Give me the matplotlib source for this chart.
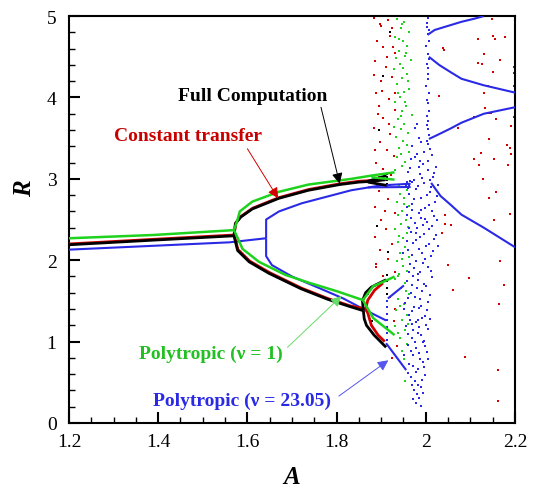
import matplotlib
matplotlib.use("Agg")
import matplotlib.pyplot as plt
from matplotlib.ticker import MultipleLocator

plt.rcParams['font.family'] = ['Liberation Serif', 'DejaVu Serif']

# ---------------- branch curves (A, R) ----------------
# Full computation (black)
full_stem_A = [1.2, 1.4, 1.57]
full_stem_R = [2.19, 2.25, 2.30]
full_up_A = [1.57, 1.573, 1.585, 1.611, 1.670, 1.737, 1.807, 1.85, 1.88, 1.91]
full_up_R = [2.30, 2.45, 2.53, 2.63, 2.76, 2.86, 2.93, 2.96, 2.97, 2.99]
full_low_A = [1.57, 1.578, 1.604, 1.648, 1.72, 1.78, 1.83, 1.86]
full_low_R = [2.30, 2.12, 1.98, 1.84, 1.65, 1.52, 1.43, 1.38]
full_p4a_A = [1.86, 1.858, 1.865, 1.878, 1.911]
full_p4a_R = [1.38, 1.50, 1.60, 1.67, 1.76]
full_p4b_A = [1.86, 1.862, 1.867, 1.884, 1.911]
full_p4b_R = [1.38, 1.28, 1.20, 1.08, 0.93]
full_top_a_A = [1.87, 1.912]
full_top_a_R = [2.97, 3.04]
full_top_b_A = [1.87, 1.912]
full_top_b_R = [2.96, 2.92]

# Constant transfer (red)
const_stem_A = [1.2, 1.4, 1.57]
const_stem_R = [2.20, 2.26, 2.31]
const_up_A = [1.57, 1.574, 1.586, 1.612, 1.671, 1.738, 1.808, 1.85, 1.88, 1.905]
const_up_R = [2.31, 2.46, 2.54, 2.64, 2.77, 2.87, 2.94, 2.97, 2.98, 3.00]
const_low_A = [1.57, 1.579, 1.605, 1.649, 1.72, 1.78, 1.83, 1.865]
const_low_R = [2.31, 2.13, 1.99, 1.85, 1.66, 1.53, 1.44, 1.40]
const_p4a_A = [1.865, 1.87, 1.885, 1.904]
const_p4a_R = [1.40, 1.51, 1.63, 1.72]
const_p4b_A = [1.865, 1.87, 1.878, 1.893, 1.908]
const_p4b_R = [1.40, 1.35, 1.20, 1.08, 1.00]

# Polytropic nu = 1 (green)
poly1_stem_A = [1.2, 1.389, 1.57]
poly1_stem_R = [2.27, 2.31, 2.37]
poly1_up_A = [1.57, 1.578, 1.583, 1.611, 1.670, 1.737, 1.833, 1.878, 1.93]
poly1_up_R = [2.37, 2.50, 2.60, 2.72, 2.84, 2.93, 3.00, 3.04, 3.08]
poly1_up2_A = [1.878, 1.93]
poly1_up2_R = [3.02, 2.99]
poly1_low_A = [1.57, 1.58, 1.589, 1.626, 1.685, 1.74, 1.80, 1.859]
poly1_low_R = [2.37, 2.25, 2.14, 1.98, 1.82, 1.72, 1.62, 1.51]
poly1_p4a_A = [1.859, 1.882, 1.915, 1.93]
poly1_p4a_R = [1.51, 1.68, 1.76, 1.80]
poly1_p4b_A = [1.859, 1.882, 1.93]
poly1_p4b_R = [1.51, 1.29, 1.08]

# Polytropic nu = 23.05 (blue)
poly23_stem_A = [1.2, 1.4, 1.56, 1.642]
poly23_stem_R = [2.13, 2.18, 2.22, 2.27]
poly23_up_A = [1.642, 1.642, 1.671, 1.722, 1.833, 1.90, 1.966]
poly23_up_R = [2.27, 2.50, 2.60, 2.70, 2.86, 2.92, 2.94]
poly23_up2_A = [1.87, 1.966]
poly23_up2_R = [2.895, 2.90]
poly23_low_A = [1.642, 1.642, 1.655, 1.70, 1.76, 1.815, 1.867, 1.911]
poly23_low_R = [2.27, 2.05, 1.94, 1.80, 1.66, 1.53, 1.38, 1.26]
poly23_p4a_A = [1.915, 1.951]
poly23_p4a_R = [1.53, 1.69]
poly23_p4b_A = [1.911, 1.956]
poly23_p4b_R = [0.98, 0.65]
poly23_c1_A = [2.004, 2.02, 2.05, 2.08, 2.11, 2.13]
poly23_c1_R = [4.77, 4.83, 4.88, 4.93, 4.97, 5.0]
poly23_c2_A = [2.007, 2.03, 2.056, 2.08, 2.13, 2.2]
poly23_c2_R = [4.50, 4.40, 4.31, 4.23, 4.15, 4.06]
poly23_c3_A = [2.007, 2.03, 2.056, 2.08, 2.13, 2.2]
poly23_c3_R = [3.49, 3.55, 3.62, 3.69, 3.80, 3.88]
poly23_c4_A = [2.012, 2.033, 2.056, 2.08, 2.13, 2.2]
poly23_c4_R = [2.95, 2.79, 2.68, 2.56, 2.40, 2.16]

# ---------------- chaotic scatter points (A, R) ----------------
red_pts = [
    (1.885, 4.98), (1.897, 4.90), (1.915, 4.95), (1.925, 4.85), (1.89, 4.70), (1.905, 4.62),
    (1.92, 4.75), (1.932, 4.55), (1.887, 4.45), (1.91, 4.38), (1.90, 4.20), (1.925, 4.25),
    (1.888, 4.05), (1.918, 3.98), (1.895, 3.90), (1.93, 3.85), (1.905, 3.75), (1.885, 3.62),
    (1.92, 3.55), (1.898, 3.45), (1.912, 3.35), (1.928, 3.28), (1.889, 3.20), (1.905, 3.12),
    (1.922, 3.05), (1.894, 2.85), (1.915, 2.75), (1.886, 2.65), (1.93, 2.58), (1.90, 2.50),
    (1.91, 2.38), (1.887, 2.28), (1.925, 2.20), (1.898, 2.12), (1.915, 2.02), (1.889, 1.92),
    (1.93, 1.85), (1.905, 1.80), (1.92, 1.55), (1.928, 1.25), (1.935, 0.95),
    (1.925, 0.80), (1.90, 4.88), (1.93, 4.05), (1.886, 3.35), (1.92, 2.92), (1.888, 1.95),
    (1.932, 1.40), (1.912, 4.50), (1.896, 3.02), (1.902, 4.08), (1.884, 4.28), (1.917, 3.68),
    (1.893, 3.80), (1.927, 4.62), (1.909, 2.60),
    (2.149, 4.96), (2.116, 4.72), (2.151, 4.75), (2.156, 4.72), (2.178, 4.74), (2.04, 4.58),
    (2.131, 4.53), (2.116, 4.42), (2.127, 4.41), (2.167, 4.46), (2.151, 4.31), (2.198, 4.38),
    (2.198, 4.30), (2.14, 4.14), (2.198, 4.14), (2.131, 4.06), (2.133, 3.87), (2.142, 3.81),
    (2.147, 3.81), (2.109, 3.76), (2.158, 3.73), (2.198, 3.76), (2.073, 3.62), (2.191, 3.65),
    (2.142, 3.49), (2.182, 3.41), (2.189, 3.38), (2.191, 3.31), (2.124, 3.32), (2.107, 3.24),
    (2.12, 3.17), (2.153, 3.25), (2.184, 3.17), (2.129, 3.00), (2.158, 2.84), (2.142, 2.77),
    (2.189, 2.57), (2.153, 2.49), (2.044, 2.56), (2.042, 2.45), (2.056, 2.43), (2.036, 2.34),
    (2.049, 1.94), (2.167, 1.99), (2.096, 1.78), (2.176, 1.70), (2.06, 1.63), (2.164, 1.46),
    (2.089, 0.81), (2.162, 0.65), (2.162, 0.27), (2.038, 4.61), (2.029, 4.02),
]

black_pts = [
    (1.905, 4.26), (1.913, 3.06), (1.913, 3.02), (1.913, 2.98), (1.913, 2.94), (1.913, 2.90),
    (1.89, 2.42), (1.915, 2.10), (1.912, 1.82), (1.912, 1.74), (1.912, 1.66), (1.912, 1.58),
    (1.912, 1.50), (1.912, 1.42), (1.912, 1.34), (1.912, 1.26), (1.912, 1.18), (1.912, 1.10),
    (1.912, 1.02), (1.87, 1.58), (1.88, 1.25), (1.895, 3.60), (1.92, 4.80),
]

green_pts = [
    (1.936, 4.97), (1.951, 4.93), (1.944, 4.86), (1.962, 4.81), (1.931, 4.74), (1.948, 4.69),
    (1.957, 4.63), (1.939, 4.57), (1.953, 4.51), (1.966, 4.46), (1.942, 4.41), (1.929, 4.35),
    (1.958, 4.29), (1.947, 4.24), (1.935, 4.17), (1.962, 4.11), (1.951, 4.07), (1.943, 4.01),
    (1.932, 3.94), (1.956, 3.89), (1.946, 3.84), (1.968, 3.79), (1.938, 3.73), (1.952, 3.68),
    (1.944, 3.61), (1.959, 3.56), (1.933, 3.51), (1.948, 3.46), (1.941, 3.38), (1.963, 3.33),
    (1.936, 3.27), (1.954, 3.21), (1.946, 3.16), (1.931, 3.11),
    (1.957, 2.86), (1.942, 2.82), (1.951, 2.76), (1.935, 2.71), (1.962, 2.67), (1.947, 2.61),
    (1.938, 2.55), (1.955, 2.49), (1.944, 2.44), (1.931, 2.38), (1.958, 2.33), (1.949, 2.27),
    (1.937, 2.22), (1.953, 2.16), (1.943, 2.09), (1.962, 2.04), (1.935, 1.99), (1.948, 1.93),
    (1.957, 1.87), (1.941, 1.83), (1.931, 1.77), (1.954, 1.72), (1.945, 1.66), (1.962, 1.58),
    (1.938, 1.52), (1.951, 1.46), (1.934, 1.39), (1.957, 1.33), (1.946, 1.27), (1.931, 1.19),
    (1.953, 1.14), (1.943, 1.05), (1.958, 0.97), (1.947, 0.88), (1.951, 0.78), (1.954, 0.52),
    (1.947, 4.90), (1.94, 4.72), (1.955, 4.55), (1.934, 4.48), (1.949, 4.36), (1.96, 4.20),
    (1.938, 4.05), (1.953, 3.95), (1.944, 3.77), (1.929, 3.64), (1.957, 3.42), (1.945, 3.30),
    (1.939, 2.93), (1.952, 2.69), (1.96, 2.41), (1.94, 2.30), (1.947, 2.01), (1.938, 1.80),
    (1.955, 1.62), (1.942, 1.44), (1.96, 1.22), (1.937, 1.10),
]

blue_pts = [
    (2.005, 4.98), (2.002, 4.91), (2.008, 4.83), (2.004, 4.78), (2.007, 4.69), (2.001, 4.63),
    (2.005, 4.54), (2.008, 4.47), (2.003, 4.41), (2.006, 4.29), (2.004, 4.23), (2.001, 4.14),
    (2.007, 4.06), (2.003, 3.97), (2.005, 3.93), (2.008, 3.84), (2.002, 3.77), (2.006, 3.71),
    (2.004, 3.61), (2.007, 3.54), (2.002, 3.47), (2.005, 3.43), (2.009, 3.37), (2.003, 4.87),
    (2.006, 4.36), (2.002, 3.66),
    (1.975, 3.62), (1.985, 3.50), (1.97, 3.40), (1.99, 3.45), (1.98, 3.68),
    (1.981, 3.31), (1.967, 3.24), (2.013, 3.29), (1.994, 3.18), (2.022, 3.14), (1.959, 3.09),
    (1.987, 3.06), (2.004, 3.11), (1.973, 2.99), (2.017, 3.02), (1.996, 2.95), (2.027, 2.93),
    (1.978, 2.87), (1.962, 2.81), (2.009, 2.84), (1.989, 2.77), (2.021, 2.72), (1.969, 2.69),
    (1.999, 2.64), (1.984, 2.58), (2.014, 2.61), (1.958, 2.55), (2.026, 2.49), (1.976, 2.46),
    (1.993, 2.43), (2.008, 2.38), (1.966, 2.35), (1.986, 2.29), (2.019, 2.26), (1.972, 2.21),
    (2.001, 2.17), (1.961, 2.12), (1.991, 2.09), (2.012, 2.05), (1.979, 1.99), (1.964, 1.95),
    (2.006, 1.92), (1.988, 1.86), (1.971, 1.81), (2.015, 1.79), (1.958, 1.74), (1.997, 1.71),
    (1.981, 1.66), (1.966, 1.60), (2.009, 1.57), (1.987, 1.52), (1.954, 1.47), (1.974, 1.43),
    (2.002, 1.39), (1.962, 1.33), (1.991, 1.29), (1.977, 1.24), (1.956, 1.19), (2.006, 1.16),
    (1.983, 1.11), (1.968, 1.05), (1.995, 1.01), (1.959, 0.96), (1.979, 0.92), (2.003, 0.87),
    (1.971, 0.83), (1.988, 0.78), (1.963, 0.72), (1.996, 0.69), (1.978, 0.63), (1.967, 0.57),
    (1.991, 0.53), (1.982, 0.47), (1.973, 0.41), (1.994, 0.37), (1.985, 0.31), (1.977, 0.25),
    (1.99, 0.21),
    (1.997, 3.33), (1.975, 3.27), (2.006, 3.22), (1.984, 3.15), (1.965, 3.13), (2.018, 3.07),
    (1.992, 3.01), (1.968, 2.96), (2.011, 2.90), (1.983, 2.91), (2.002, 2.80), (1.974, 2.75),
    (2.025, 2.79), (1.958, 2.66), (2.007, 2.68), (1.989, 2.62), (1.966, 2.52), (2.019, 2.54),
    (1.998, 2.51), (1.981, 2.40), (2.015, 2.42), (1.962, 2.39), (1.995, 2.32), (2.024, 2.31),
    (1.977, 2.25), (2.008, 2.20), (1.985, 2.14), (1.968, 2.06), (2.017, 2.11), (1.999, 2.02),
    (1.973, 1.90), (1.994, 1.96), (2.011, 1.87), (1.962, 1.85), (1.983, 1.76), (2.001, 1.68),
    (1.969, 1.69), (1.991, 1.62), (1.975, 1.55), (2.005, 1.49), (1.96, 1.54), (1.985, 1.41),
    (1.969, 1.37), (1.998, 1.32), (1.982, 1.26), (1.965, 1.27), (2.0, 1.21), (1.972, 1.14),
    (1.989, 1.08), (1.961, 1.09), (1.975, 0.99), (1.999, 0.94), (1.966, 0.89), (1.985, 0.86),
    (1.994, 0.75), (1.972, 0.70), (1.983, 0.66), (1.998, 0.59), (1.976, 0.51), (1.989, 0.44),
    (1.968, 0.47), (1.981, 0.36), (1.972, 0.29),
    (1.988, 3.22), (2.01, 2.98), (1.97, 2.62), (1.99, 2.52), (2.003, 2.47), (1.978, 2.33),
    (1.957, 2.24), (2.028, 2.17), (1.95, 2.09), (1.982, 1.83), (1.99, 1.44), (1.952, 1.40),
    (2.01, 1.28), (1.97, 1.22), (1.985, 1.18), (1.993, 0.99), (1.952, 0.84), (2.005, 0.79),
    (1.96, 0.62),
    (1.958, 2.96), (1.962, 2.93), (1.955, 2.91), (1.96, 2.89), (1.964, 2.97),
    (1.912, 1.50), (1.912, 1.42), (1.912, 1.34), (1.912, 1.26), (1.912, 1.18), (1.912, 1.10),
    (1.912, 1.02),
]

# ---------------- axis texts ----------------
x_ticks = [1.2, 1.4, 1.6, 1.8, 2.0, 2.2]
x_tick_labels = ["1.2", "1.4", "1.6", "1.8", "2", "2.2"]
y_ticks = [0, 1, 2, 3, 4, 5]
y_tick_labels = ["0", "1", "2", "3", "4", "5"]

RED = "#d40000"
BLACK = "#000000"
GREEN = "#1ed21e"
BLUE = "#2a2ae6"

fig = plt.figure(figsize=(5.37, 4.89), dpi=100)
ax = fig.add_axes([0.1285, 0.133, 0.8305, 0.832])

def scat(pts, color):
    ax.scatter([p[0] for p in pts], [p[1] for p in pts], s=3.0, marker='s',
               color=color, linewidths=0, zorder=2)

scat(red_pts, RED)
scat(green_pts, GREEN)
scat(black_pts, BLACK)
scat(blue_pts, BLUE)

def line(A, R, color, lw, z):
    ax.plot(A, R, color=color, lw=lw, zorder=z, solid_capstyle='butt')

for A, R in [(poly23_stem_A, poly23_stem_R), (poly23_up_A, poly23_up_R),
             (poly23_up2_A, poly23_up2_R), (poly23_low_A, poly23_low_R),
             (poly23_p4a_A, poly23_p4a_R), (poly23_p4b_A, poly23_p4b_R),
             (poly23_c1_A, poly23_c1_R), (poly23_c2_A, poly23_c2_R),
             (poly23_c3_A, poly23_c3_R), (poly23_c4_A, poly23_c4_R)]:
    line(A, R, BLUE, 1.5, 3)

for A, R in [(const_stem_A, const_stem_R), (const_up_A, const_up_R),
             (const_low_A, const_low_R), (const_p4a_A, const_p4a_R),
             (const_p4b_A, const_p4b_R)]:
    line(A, R, RED, 2.0, 4)

for A, R in [(full_stem_A, full_stem_R), (full_up_A, full_up_R),
             (full_low_A, full_low_R), (full_p4a_A, full_p4a_R),
             (full_p4b_A, full_p4b_R), (full_top_a_A, full_top_a_R),
             (full_top_b_A, full_top_b_R)]:
    line(A, R, BLACK, 2.0, 5)

for A, R in [(poly1_stem_A, poly1_stem_R), (poly1_up_A, poly1_up_R),
             (poly1_up2_A, poly1_up2_R), (poly1_low_A, poly1_low_R),
             (poly1_p4a_A, poly1_p4a_R), (poly1_p4b_A, poly1_p4b_R)]:
    line(A, R, GREEN, 1.8, 6)

def arrow(tip, tail, color):
    ax.annotate("", xy=tip, xytext=tail, zorder=8,
                arrowprops=dict(arrowstyle='-|>', color=color, lw=0.7,
                                mutation_scale=16, shrinkA=0, shrinkB=0))

FS = 14
arrow((1.807, 2.94), (1.765, 3.88), BLACK)
ax.text(1.611, 4.03, "Full Computation", color=BLACK, fontsize=FS,
        fontweight='bold', ha='center', va='center')

arrow((1.669, 2.76), (1.60, 3.37), RED)
ax.text(1.467, 3.53, "Constant transfer", color="#c80000", fontsize=FS,
        fontweight='bold', ha='center', va='center')

arrow((1.811, 1.56), (1.69, 0.93), "#66dd66")
ax.text(1.518, 0.86, "Polytropic (\u03bd = 1)", color="#22c022", fontsize=FS,
        fontweight='bold', ha='center', va='center')

arrow((1.916, 0.77), (1.805, 0.33), "#5555ee")
ax.text(1.589, 0.28, "Polytropic (\u03bd = 23.05)", color="#2a2ae6", fontsize=FS,
        fontweight='bold', ha='center', va='center')

ax.set_xlim(1.2, 2.2)
ax.set_ylim(0, 5)
ax.set_xticks(x_ticks)
ax.set_xticklabels(x_tick_labels)
ax.set_yticks(y_ticks)
ax.set_yticklabels(y_tick_labels)
ax.xaxis.set_minor_locator(MultipleLocator(0.05))
ax.yaxis.set_minor_locator(MultipleLocator(0.2))
ax.tick_params(which='both', direction='in', top=False, right=False, labelsize=14, width=1.0)
ax.tick_params(which='major', length=8, width=1.5)
ax.tick_params(which='minor', length=4)
ax.tick_params(axis='x', which='major', pad=7)
ax.tick_params(axis='y', which='major', pad=9)
for s in ax.spines.values():
    s.set_linewidth(1.5)
ax.set_xlabel("A", fontsize=18, fontweight='bold', fontstyle='italic')
ax.xaxis.set_label_coords(0.5, -0.103)
ax.set_ylabel("R", fontsize=18, fontweight='bold', fontstyle='italic', rotation=90)
ax.yaxis.set_label_coords(-0.075, 0.578)

fig.savefig("out.png", dpi=100)
